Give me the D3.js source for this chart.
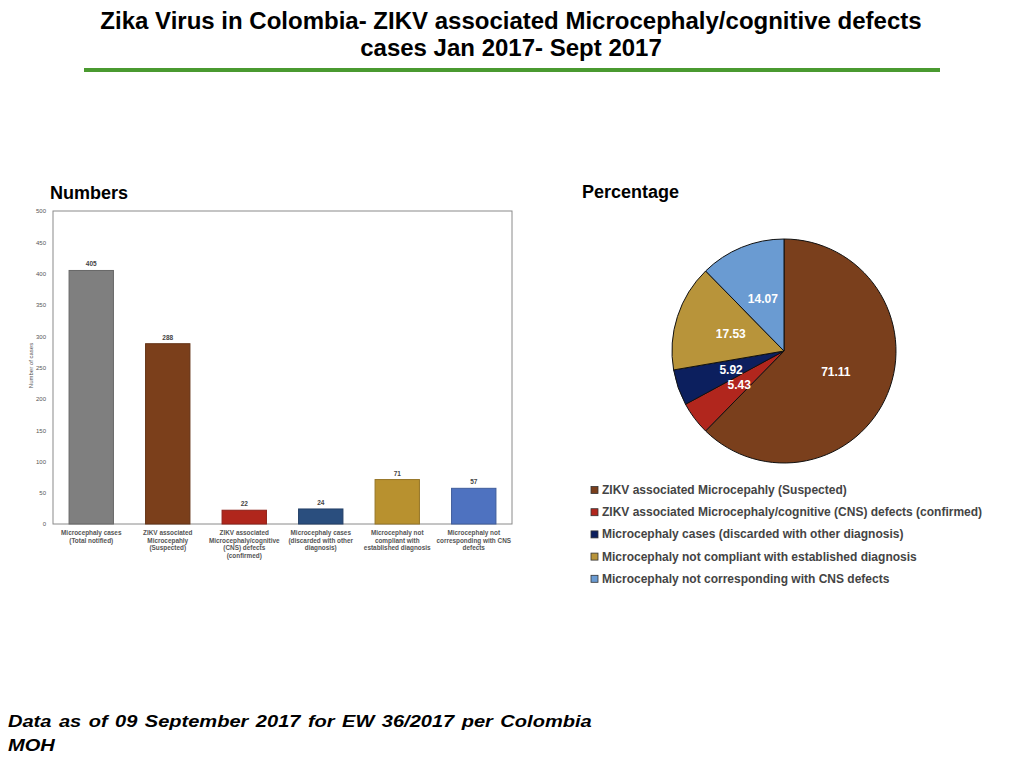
<!DOCTYPE html>
<html><head><meta charset="utf-8">
<script src="https://cdn.jsdelivr.net/npm/d3@7"></script>
<style>
body{margin:0;background:#fff;}
svg{display:block;}
</style></head>
<body>
<svg id="c" width="1024" height="768"></svg>
<script>
const barCategories = [
  ["Microcephaly cases", "(Total notified)"],
  ["ZIKV associated", "Microcepahly", "(Suspected)"],
  ["ZIKV associated", "Microcephaly/cognitive", "(CNS) defects", "(confirmed)"],
  ["Microcephaly cases", "(discarded with other", "diagnosis)"],
  ["Microcephaly not", "compliant with", "established diagnosis"],
  ["Microcephaly not", "corresponding with CNS", "defects"]
];
const barValues = [405, 288, 22, 24, 71, 57];
const barColors = ["#7f7f7f", "#7b3f1b", "#b0261c", "#2a4e7e", "#b8912f", "#4e72c0"];
const yTicks = [0, 50, 100, 150, 200, 250, 300, 350, 400, 450, 500];

const pieLabels = [
  "ZIKV associated Microcepahly (Suspected)",
  "ZIKV associated Microcephaly/cognitive (CNS) defects (confirmed)",
  "Microcephaly cases (discarded with other diagnosis)",
  "Microcephaly not compliant with established diagnosis",
  "Microcephaly not corresponding with CNS defects"
];
const pieValues = [71.11, 5.43, 5.92, 17.53, 14.07];
const pieColors = ["#7a3f1c", "#b1261d", "#0c1f5e", "#b8943a", "#6a9bd2"];

const svg = d3.select("#c");
const sans = "'Liberation Sans',Arial,Helvetica,sans-serif";

// Title
[["Zika Virus in Colombia- ZIKV associated Microcephaly/cognitive defects", 29],
 ["cases Jan 2017- Sept 2017", 56]].forEach(([t, yy]) => {
  svg.append("text").attr("transform", `translate(511,${yy}) scale(0.98,1)`).attr("text-anchor", "middle")
    .style("font-family", sans).style("font-weight", "bold").style("font-size", "24.5px")
    .text(t);
});
svg.append("rect").attr("x", 84).attr("y", 68).attr("width", 856).attr("height", 4).attr("fill", "#4a9a30");

// Section titles
svg.append("text").attr("x", 50).attr("y", 199).style("font-family", sans).style("font-weight", "bold")
  .style("font-size", "18px").text("Numbers");
svg.append("text").attr("x", 582).attr("y", 198).style("font-family", sans).style("font-weight", "bold")
  .style("font-size", "18px").text("Percentage");

// Bar chart
const L = 53, R = 512, T = 211, B = 524;
const x = d3.scaleBand().domain(d3.range(barValues.length)).range([L, R]).paddingInner(0.42).paddingOuter(0.21);
const y = d3.scaleLinear().domain([0, 500]).range([B, T]);

const g = svg.append("g");
g.append("rect").attr("x", L).attr("y", T).attr("width", R - L).attr("height", B - T)
  .attr("fill", "none").attr("stroke", "#8a8a8a").attr("stroke-width", 1);

const yAxis = d3.axisLeft(y).tickValues(yTicks).tickSize(0).tickPadding(7);
const ya = g.append("g").attr("transform", `translate(${L},0)`).call(yAxis);
ya.select(".domain").remove();
ya.selectAll("text").style("font-family", sans).style("font-size", "6px").attr("fill", "#555");

g.append("text").attr("transform", `translate(33,${(T + B) / 2 - 2}) rotate(-90)`).attr("text-anchor", "middle")
  .style("font-family", sans).style("font-size", "6px").attr("fill", "#555").text("Number of cases");

g.selectAll("rect.bar").data(barValues).join("rect").attr("class", "bar")
  .attr("x", (d, i) => x(i)).attr("width", x.bandwidth())
  .attr("y", d => y(d)).attr("height", d => B - y(d))
  .attr("fill", (d, i) => barColors[i])
  .attr("stroke", (d, i) => d3.color(barColors[i]).darker(0.6)).attr("stroke-width", 1);

g.selectAll("text.val").data(barValues).join("text").attr("class", "val")
  .attr("x", (d, i) => x(i) + x.bandwidth() / 2).attr("y", d => y(d) - 4)
  .attr("text-anchor", "middle").style("font-family", sans).style("font-size", "6.5px")
  .style("font-weight", "bold").attr("fill", "#444").text(d => d);

const xa = g.append("g").attr("transform", `translate(0,${B})`)
  .call(d3.axisBottom(x).tickSize(0).tickFormat(""));
xa.select(".domain").remove();
barCategories.forEach((lines, i) => {
  const t = g.append("text").attr("text-anchor", "middle").style("font-family", sans)
    .style("font-size", "6.4px").style("font-weight", "bold").attr("fill", "#555");
  lines.forEach((ln, j) => {
    t.append("tspan").attr("x", x(i) + x.bandwidth() / 2).attr("y", 535 + j * 7.7).text(ln);
  });
});

// Pie
const cx = 784, cy = 351, r = 112;
const pie = d3.pie().sort(null).value(d => d);
const arc = d3.arc().innerRadius(0).outerRadius(r);
const pg = svg.append("g").attr("transform", `translate(${cx},${cy})`);
const arcs = pie(pieValues);
pg.selectAll("path").data(arcs).join("path").attr("d", arc)
  .attr("fill", (d, i) => pieColors[i]).attr("stroke", "#111").attr("stroke-width", 1);
pg.selectAll("text").data(arcs).join("text")
  .attr("transform", d => `translate(${arc.centroid(d)})`)
  .attr("text-anchor", "middle").attr("dy", "0.35em")
  .style("font-family", sans).style("font-weight", "bold").style("font-size", "12px")
  .attr("fill", "#fff").text(d => d.data.toFixed(2));

// Legend
const lg = svg.append("g");
pieLabels.forEach((lab, i) => {
  const yy = 490 + i * 22.2;
  lg.append("rect").attr("x", 591).attr("y", yy - 3.5).attr("width", 7).attr("height", 7)
    .attr("fill", pieColors[i]).attr("stroke", "#333").attr("stroke-width", 0.8);
  lg.append("text").attr("x", 602).attr("y", yy + 4).style("font-family", sans)
    .style("font-size", "12px").style("font-weight", "bold").attr("fill", "#444").text(lab);
});

// Footnote
const ft = svg.append("text").attr("transform", "translate(8,0) scale(1.18,1)")
  .style("font-family", sans).style("font-weight", "bold")
  .style("font-style", "italic").style("font-size", "17px").attr("fill", "#000");
ft.append("tspan").attr("x", 0).attr("y", 727).style("word-spacing", "1.6px")
  .text("Data as of 09 September 2017 for EW 36/2017 per Colombia");
ft.append("tspan").attr("x", 0).attr("y", 751).text("MOH");
</script>
</body></html>
